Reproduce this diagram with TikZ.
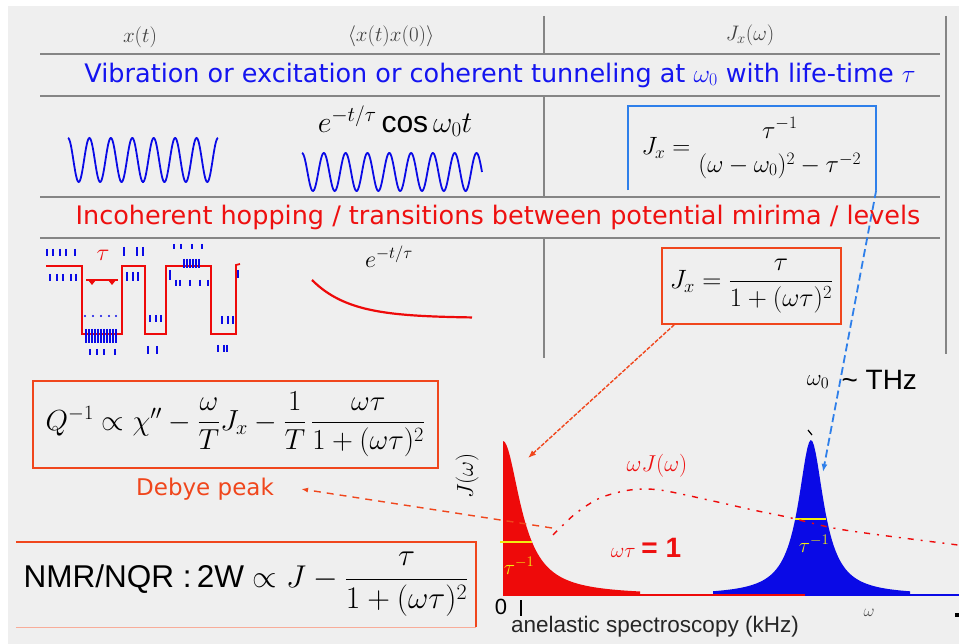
\RequirePackage{fix-cm}
\documentclass[tikz,border=0pt]{standalone}
\usepackage{amsmath}
\usepackage{fontspec}
\setmainfont{Liberation Sans}
\newfontfamily\comic{DejaVu Sans}
\usetikzlibrary{arrows.meta, calc, positioning}
\definecolor{bgGray}{HTML}{EFEFEF}
\definecolor{lineGray}{HTML}{858585}
\definecolor{blueText}{HTML}{1414F0}
\definecolor{blueLine}{HTML}{2E7FEA}
\definecolor{blueFill}{HTML}{0A0AE6}
\definecolor{redText}{HTML}{EE1010}
\definecolor{redFill}{HTML}{EE0A0A}
\definecolor{orangeBorder}{HTML}{F0461C}
\definecolor{yellowMark}{HTML}{F2EE10}

\begin{document}
\begin{tikzpicture}[x=1pt, y=-1pt,
  % node styles
  rowTitle/.style={font=\comic\fontsize{25.5}{29}\selectfont},
  colHead/.style={font=\fontsize{21}{24}\selectfont, text=black!75},
  formulaBox/.style={
    rectangle, draw=orangeBorder, line width=1.5pt, inner sep=0pt
  },
  redLabel/.style={text=redText, inner sep=1pt},
  yellowLabel/.style={text=yellowMark, font=\bfseries\fontsize{21}{24}\selectfont, inner sep=0pt},
  % line styles
  tableLine/.style={draw=lineGray, line width=2pt},
  waveLine/.style={draw=blueFill, line width=1.8pt},
  signalLine/.style={draw=redFill, line width=1.8pt},
  noiseTick/.style={draw=blueFill, line width=1.4pt},
  yellowLine/.style={draw=yellowMark, line width=1.8pt},
  % arrow styles
  flechaNaranja/.style={
    -{Latex[length=8pt, width=6pt]}, draw=orangeBorder, line width=1.4pt,
    dash pattern=on 4pt off 1.5pt
  },
  flechaAzul/.style={
    -{Latex[length=8pt, width=6pt]}, draw=blueLine, line width=1.8pt,
    dash pattern=on 8pt off 4pt
  },
  flechaDebye/.style={
    -{Latex[length=7pt, width=5pt]}, draw=orangeBorder, line width=1.4pt,
    dash pattern=on 7pt off 6pt
  },
  curveRed/.style={
    draw=redFill, line width=1.4pt, dash pattern=on 6pt off 7pt on 2pt off 7pt
  }
]
\useasboundingbox (0,0) rectangle (959,644);
\fill[white] (0,0) rectangle (959,644);
\fill[bgGray] (8,6) rectangle (959,644);

% --- Table grid ---
\draw[tableLine] (40,54) -- (940,54);
\draw[tableLine] (40,96) -- (940,96);
\draw[tableLine] (40,197) -- (940,197);
\draw[tableLine] (40,238) -- (940,238);
\draw[tableLine] (544,16) -- (544,54);
\draw[tableLine] (544,96) -- (544,197);
\draw[tableLine] (544,238) -- (544,358);
\draw[tableLine] (946,16) -- (946,354);

% --- Column headers ---
\node[colHead] (hx)    at (140,37) {$x(t)$};
\node[colHead] (hcorr) at (391,36) {$\langle x(t)x(0)\rangle$};
\node[colHead] (hj)    at (750,35) {$J_x(\omega)$};

% --- Row titles ---
\node[rowTitle, text=blueText] (vibTitle) at (500,75)
  {Vibration or excitation or coherent tunneling at $\omega_0$ with life-time $\tau$};
\node[rowTitle, text=redText] (hopTitle) at (498,217)
  {Incoherent hopping / transitions between potential mirima / levels};

% --- Coherent row ---
\draw[waveLine] plot[domain=68:218, samples=240]
  (\x, {160-22*cos(16.8*(\x-68))});
\node[font=\fontsize{30}{34}\selectfont] (cosLabel) at (395,121)
  {$e^{-t/\tau}\cos\omega_0 t$};
\draw[waveLine] plot[domain=302:482, samples=260]
  (\x, {172-19*cos(16.5*(\x-302))});
\node[minimum width=248pt, minimum height=84pt, inner sep=0pt,
      font=\fontsize{25}{29}\selectfont] (jvib) at (752,148)
  {$J_x = \genfrac{}{}{0pt}{0}{\tau^{-1}}{(\omega-\omega_0)^2-\tau^{-2}}$};
\draw[draw=blueLine, line width=1.6pt]
  (jvib.south west) |- (jvib.north east) -- (jvib.south east);

% --- Incoherent row ---
\draw[signalLine] (46,266) -- (82,266) -- (82,334) -- (122,334) -- (122,266)
  -- (145,266) -- (145,334) -- (166,334) -- (166,266) -- (211,266)
  -- (211,334) -- (236,334) -- (236,265) -- (240,264);
\node[redLabel, font=\fontsize{24}{28}\selectfont] (tauLab) at (103,255) {$\tau$};
\draw[signalLine, line width=1.6pt] (86,280) -- (118,280);
\fill[redFill] (88,280) -- (96,280) -- (92,285) -- cycle;
\fill[redFill] (108,280) -- (116,280) -- (112,285) -- cycle;
% noise marks
\foreach \nx in {47,53,60,66,75} \draw[noiseTick] (\nx,249) -- (\nx,256);
\foreach \nx in {50,57,63,71,76} \draw[noiseTick] (\nx,274) -- (\nx,281);
\foreach \nx in {86,89,...,116} \draw[noiseTick] (\nx,329) -- (\nx,343);
\foreach \nx in {85,93,101,109,116} \fill[blueFill] (\nx,316) circle (1.2pt);
\foreach \nx in {90,97,104,115} \draw[noiseTick] (\nx,349) -- (\nx,355);
\foreach \nx in {124,137,143} \draw[noiseTick] (\nx,247) -- (\nx,256);
\foreach \nx in {127,133,138} \draw[noiseTick] (\nx,272) -- (\nx,281);
\foreach \nx in {150,156,161} \draw[noiseTick] (\nx,315) -- (\nx,322);
\foreach \nx in {148,157} \draw[noiseTick] (\nx,346) -- (\nx,354);
\foreach \nx in {174,181,192,202} \draw[noiseTick] (\nx,244) -- (\nx,249);
\foreach \nx in {184,187,...,199} \draw[noiseTick] (\nx,259) -- (\nx,268);
\foreach \nx in {176,180,190,200,208} \draw[noiseTick] (\nx,280) -- (\nx,286);
\draw[noiseTick] (170,270) -- (170,280);
\foreach \nx in {222,228,233} \draw[noiseTick] (\nx,316) -- (\nx,324);
\foreach \nx in {218,224,227} \draw[noiseTick] (\nx,345) -- (\nx,352);
\draw[noiseTick] (238,270) -- (238,278);
% decay
\node[font=\fontsize{24}{28}\selectfont] (expLabel) at (389,257) {$e^{-t/\tau}$};
\draw[signalLine, line width=2.2pt] plot[domain=312:472, samples=50]
  (\x, {318-38*exp(-(\x-312)/38)});
\node[formulaBox, minimum width=179pt, minimum height=76pt,
      font=\fontsize{26.5}{30}\selectfont] (jdeb) at (751.5,286)
  {$J_x = \dfrac{\tau}{1+(\omega\tau)^2}$};

% --- Relaxation formulas ---
\node[formulaBox, minimum width=405pt, minimum height=87pt,
      font=\fontsize{29}{33}\selectfont] (qbox) at (235.5,424.5)
  {$Q^{-1}\propto\chi''-\dfrac{\omega}{T}J_x-\dfrac{1}{T}\,\dfrac{\omega\tau}{1+(\omega\tau)^2}$};
\node[redLabel, font=\comic\fontsize{23}{27}\selectfont, text=orangeBorder]
  (debye) at (205,489) {Debye peak};
\node[minimum width=460pt, minimum height=85pt, inner sep=0pt,
      font=\fontsize{31.5}{35}\selectfont] (nmr) at (246,584.5)
  {NMR/NQR :\,2W $\propto J-\dfrac{\tau}{1+(\omega\tau)^2}$};
\draw[draw=orangeBorder, line width=1.5pt]
  (nmr.north west) -- (nmr.north east) -- (nmr.south east);
\draw[draw=orangeBorder!45, line width=1.2pt] (nmr.south west) -- (nmr.south east);

% --- Spectrum ---
\fill[redFill] (503,595) -- plot[domain=503:640, samples=80]
  (\x, {595-154/(1+((\x-503)/21)*((\x-503)/21))}) -- (640,595) -- cycle;
\fill[blueFill] plot[domain=713:910, samples=120]
  (\x, {595-155/(1+((\x-811)/15.5)*((\x-811)/15.5))}) -- (910,595) -- (713,595) -- cycle;
\draw[draw=redFill, line width=1.6pt] (503,595) -- (805,595);
\draw[draw=blueFill, line width=1.6pt] (805,595) -- (959,595);
\draw[black, line width=1.2pt] (808,430) -- (812,435);
% half widths
\draw[yellowLine] (500,542) -- (532,542);
\node[yellowLabel] (hwRed) at (519,566) {$\tau^{-1}$};
\draw[yellowLine] (795,519) -- (826,519);
\node[yellowLabel] (hwBlue) at (814,544) {$\tau^{-1}$};
% peak curve and labels
\draw[curveRed] plot[smooth] coordinates {(553,535) (575,514) (600,498)
  (630,490) (660,490) (713,501) (753,510) (787,517) (833,528) (880,535) (958,545)};
\node[redLabel, font=\fontsize{23}{26}\selectfont] (wjLab) at (657,466) {$\omega J(\omega)$};
\node[redLabel, font=\fontsize{21}{24}\selectfont] (wtLab) at (646,548)
  {$\omega\tau$\ \textbf{\fontsize{28}{30}\selectfont = 1}};
\node[font=\fontsize{23}{26}\selectfont, rotate=90] (jAxis) at (467,476) {$J(\omega)$};
\node[font=\fontsize{22}{26}\selectfont] (zero) at (501,607) {0};
\draw[black, line width=1.4pt] (521,600) -- (521,616);
\node[font=\fontsize{17}{19}\selectfont, text=black!70] (wAxis) at (869,613) {$\omega$};
\fill[black] (955,613) rectangle (959,617);
\node[font=\fontsize{22.5}{25}\selectfont, text=black!85] (anel) at (655,627)
  {anelastic spectroscopy (kHz)};
\node[font=\fontsize{23}{26}\selectfont] (w0) at (818,382) {$\omega_0$};
\node[font=\fontsize{28}{32}\selectfont, anchor=west] (thz) at (838,380) {\textasciitilde{} THz};

% --- Arrows ---
\coordinate (redPeakTip) at (528,458);
\coordinate (bluePeakTip) at (823,472);
\coordinate (debyeStart) at (552,528);
\draw[flechaNaranja] ([xshift=13pt]jdeb.south west) -- (redPeakTip);
\draw[flechaAzul] (jvib.south east) -- (bluePeakTip);
\draw[flechaDebye] (debyeStart) -- ([xshift=26pt]debye.east);

\end{tikzpicture}
\end{document}
